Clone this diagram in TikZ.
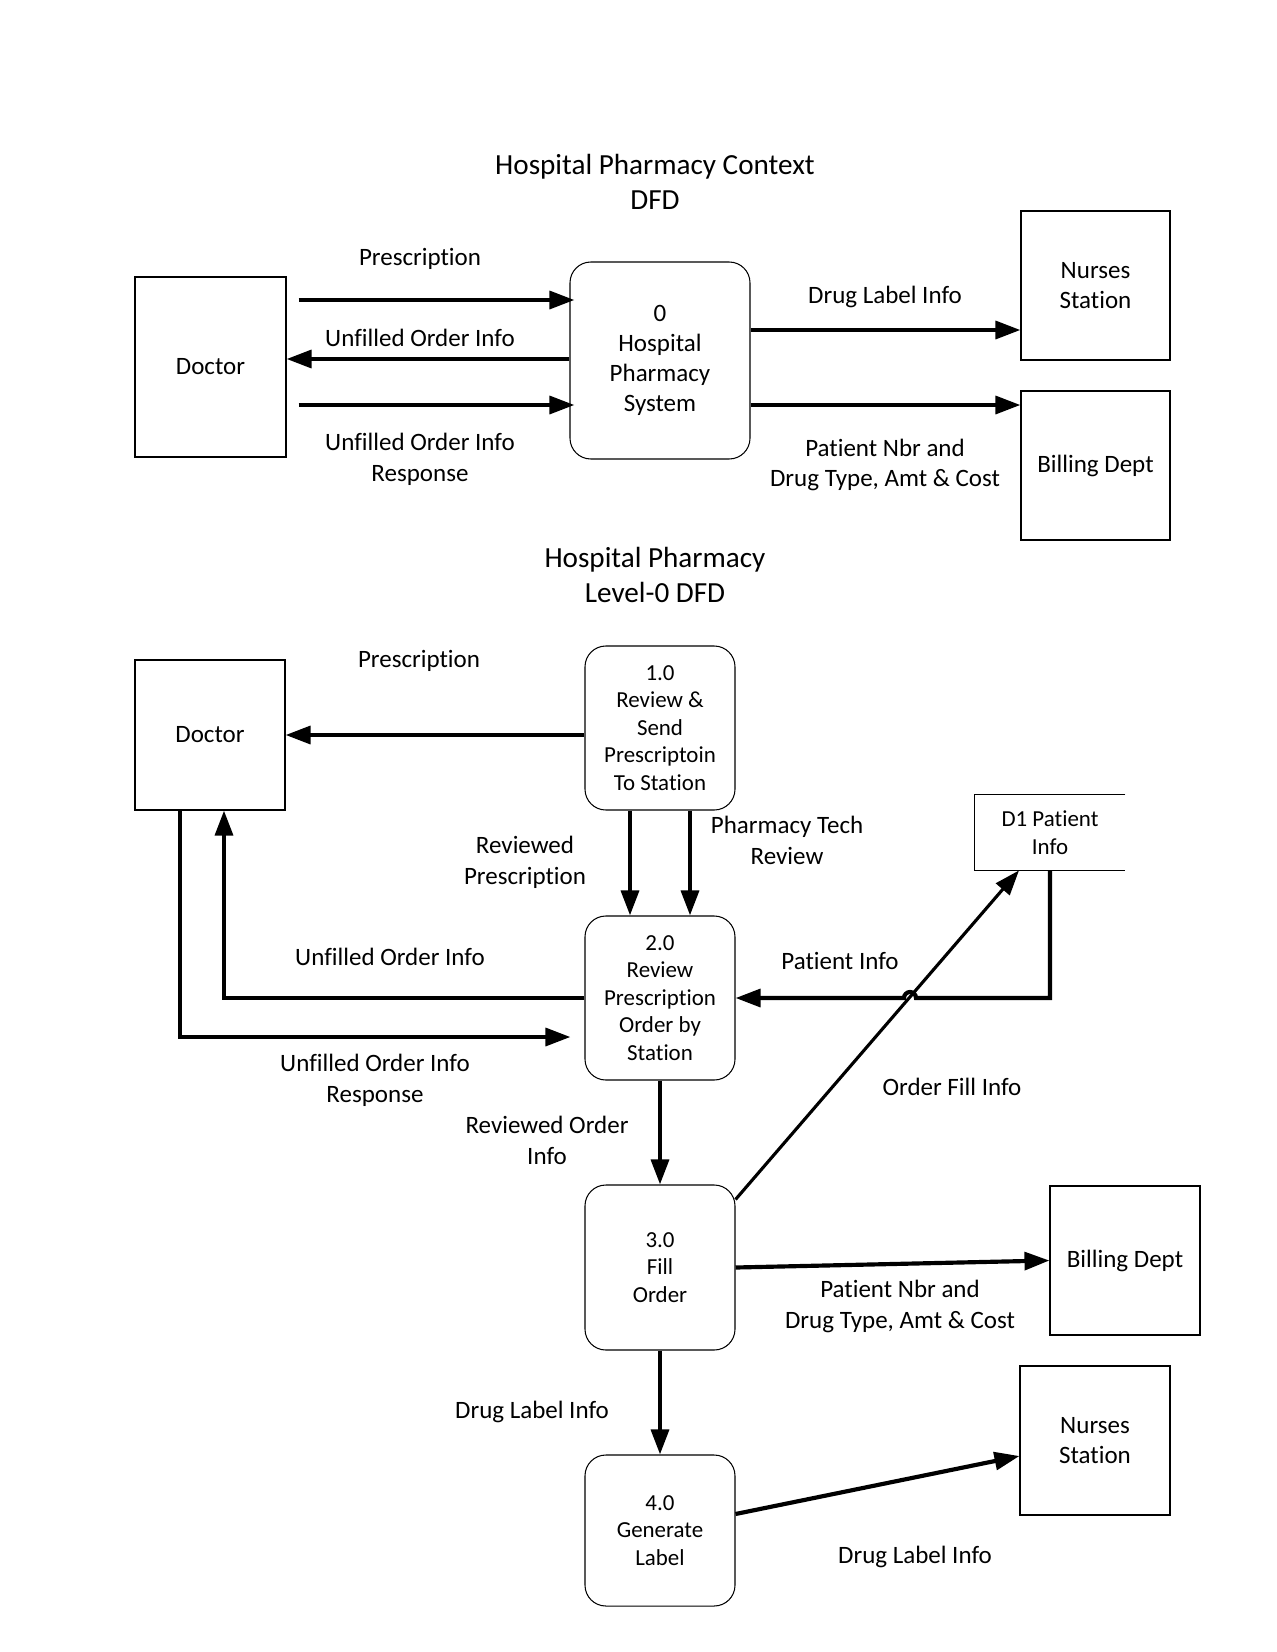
\documentclass[tikz,border=0pt]{standalone}
\usepackage{fontspec}
\setmainfont{Carlito}[Ligatures={NoCommon},RawFeature={-liga;-clig;-dlig}]
\usetikzlibrary{arrows.meta,calc}
\begin{document}
\begin{tikzpicture}[x=0.48pt,y=-0.48pt,
  lab/.style={inner sep=0pt,align=center,font=\fontsize{12}{14.6}\selectfont},
  ttl/.style={inner sep=0pt,align=center,font=\fontsize{14}{16.8}\selectfont},
  ent/.style={draw,line width=0.5pt,inner sep=0pt,align=center,font=\fontsize{12}{14.4}\selectfont},
  proc/.style={draw,line width=0.5pt,rounded corners=10pt,inner sep=0pt,align=center,font=\fontsize{11}{13.2}\selectfont},
  flow/.style={line width=2pt,-{Triangle[length=12pt,width=8.5pt]}},
  thinflow/.style={line width=1.5pt,-{Triangle[length=12pt,width=8.5pt]}}
]
\useasboundingbox (0,0) rectangle (1277,1652);
\fill[white] (0,0) rectangle (1277,1652);

% ---------- Context DFD ----------
\node[ttl] (t1) at (655,182) {Hospital Pharmacy Context\\DFD};
\node[ent,minimum width=151*0.48pt,minimum height=180*0.48pt] (doc1) at (210.5,367) {Doctor};
\node[ent,rounded corners=10pt,minimum width=180*0.48pt,minimum height=197*0.48pt] (p0) at (660,360.5) {0\\Hospital\\Pharmacy\\System};
\node[ent,minimum width=149*0.48pt,minimum height=149*0.48pt] (ns1) at (1095.5,285.5) {Nurses\\Station};
\node[ent,minimum width=149*0.48pt,minimum height=149*0.48pt] (bd1) at (1095.5,465.5) {Billing Dept};

\draw[flow,shorten <=12*0.48pt,shorten >=-5*0.48pt] (doc1.east |- 0,300) -- (p0.west |- 0,300);
\draw[flow] (p0.west |- 0,359) -- (doc1.east |- 0,359);
\draw[flow,shorten <=12*0.48pt,shorten >=-5*0.48pt] (doc1.east |- 0,405) -- (p0.west |- 0,405);
\draw[flow] (p0.east |- 0,330) -- (ns1.west |- 0,330);
\draw[flow] (p0.east |- 0,405) -- (bd1.west |- 0,405);

\node[lab] (l1) at (420,259) {Prescription};
\node[lab] (l2) at (420,338) {Unfilled Order Info};
\node[lab] (l3) at (420,459.5) {Unfilled Order Info\\Response};
\node[lab] (l4) at (885,297) {Drug Label Info};
\node[lab] (l5) at (885,465) {Patient Nbr and\\Drug Type, Amt \& Cost};

% ---------- Level-0 DFD ----------
\node[ttl] (t2) at (655,574.5) {Hospital Pharmacy\\Level-0 DFD};
\node[ent,minimum width=150*0.48pt,minimum height=150*0.48pt] (doc2) at (210,735) {Doctor};
\node[proc,minimum width=150*0.48pt,minimum height=164*0.48pt] (p1) at (660,728) {1.0\\Review \&\\Send\\Prescriptoin\\To Station};
\node[proc,minimum width=150*0.48pt,minimum height=164*0.48pt] (p2) at (660,998) {2.0\\Review\\Prescription\\Order by\\Station};
\node[proc,minimum width=150*0.48pt,minimum height=165*0.48pt] (p3) at (660,1267.5) {3.0\\Fill\\Order};
\node[proc,minimum width=150*0.48pt,minimum height=151*0.48pt] (p4) at (660,1530.5) {4.0\\Generate\\Label};
\node[inner sep=0pt,align=center,font=\fontsize{11}{13.4}\selectfont,minimum width=150*0.48pt,minimum height=75*0.48pt] (d1) at (1050,832.5) {D1 Patient\\Info};
\draw[line width=0.5pt] (d1.north east) -- (d1.north west) -- (d1.south west) -- (d1.south east);
\node[ent,minimum width=150*0.48pt,minimum height=149*0.48pt] (bd2) at (1125,1260.5) {Billing Dept};
\node[ent,minimum width=150*0.48pt,minimum height=149*0.48pt] (ns2) at (1095,1440.5) {Nurses\\Station};

\draw[flow] (p1.west |- 0,735) -- (doc2.east |- 0,735);
\draw[flow] (p1.south -| 630,0) -- (p2.north -| 630,0);
\draw[flow] (p1.south -| 690,0) -- (p2.north -| 690,0);
\draw[flow] (p2.west) -| (doc2.south -| 224,0);
\draw[flow,shorten >=14*0.48pt] (doc2.south -| 180,0) |- (p2.west |- 0,1037);
\draw[flow] (d1.south) |- (916,998) arc[start angle=0,end angle=-180,radius=6] -- (p2.east);
\draw[thinflow] ([yshift=-15*0.48pt]p3.north east) -- (d1.south -| 1019,0);
\draw[flow] (p2.south) -- (p3.north);
\draw[flow] (p3.east) -- (bd2.west);
\draw[flow] (p3.south) -- (p4.north);
\draw[flow] (p4.east |- 0,1514) -- (ns2.west |- 0,1456);

\node[lab] (m1) at (419,661) {Prescription};
\node[lab] (m2) at (525,862.5) {Reviewed\\Prescription};
\node[lab] (m3) at (787,840.5) {Pharmacy Tech\\Review};
\node[lab] (m4) at (390,957) {Unfilled Order Info};
\node[lab] (m5) at (375,1080.5) {Unfilled Order Info\\Response};
\node[lab] (m6) at (840,961) {Patient Info};
\node[lab] (m7) at (547,1140.5) {Reviewed Order\\Info};
\node[lab] (m8) at (952,1087) {Order Fill Info};
\node[lab] (m9) at (900,1306.5) {Patient Nbr and\\Drug Type, Amt \& Cost};
\node[lab] (m10) at (532,1412) {Drug Label Info};
\node[lab] (m11) at (915,1557) {Drug Label Info};
\end{tikzpicture}
\end{document}
